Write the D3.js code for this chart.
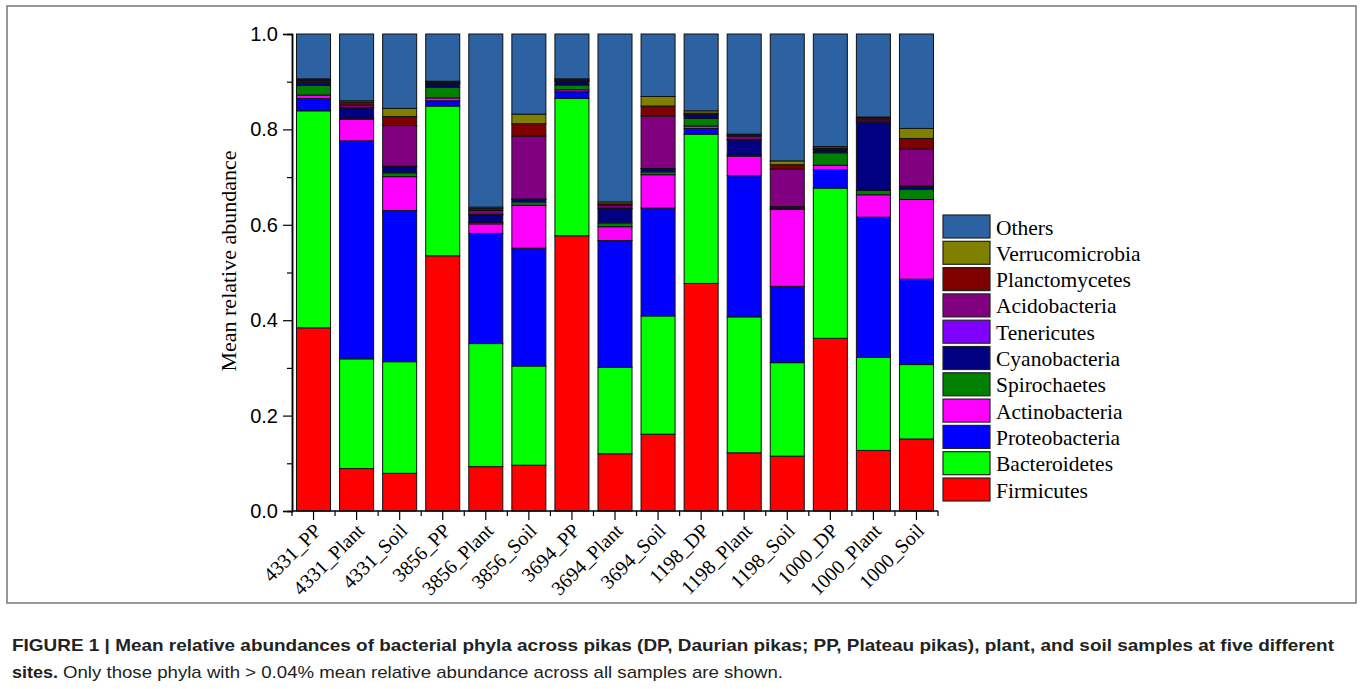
<!DOCTYPE html>
<html>
<head>
<meta charset="utf-8">
<script src="https://cdn.jsdelivr.net/npm/d3@7"></script>
<style>
  html, body { margin: 0; padding: 0; background: #fff; }
  svg { display: block; }
</style>
</head>
<body>
<svg id="fig" width="1360" height="689"></svg>
<script>
// Samples (site_host) along the x axis
const samples = ["4331_PP", "4331_Plant", "4331_Soil", "3856_PP", "3856_Plant", "3856_Soil",
  "3694_PP", "3694_Plant", "3694_Soil", "1198_DP", "1198_Plant", "1198_Soil",
  "1000_DP", "1000_Plant", "1000_Soil"];

// Phyla, stacked from the bottom up
const phyla = ["Firmicutes", "Bacteroidetes", "Proteobacteria", "Actinobacteria", "Spirochaetes",
  "Cyanobacteria", "Tenericutes", "Acidobacteria", "Planctomycetes", "Verrucomicrobia", "Others"];

// Mean relative abundance of each phylum per sample
const firmicutes      = [0.384, 0.089, 0.079, 0.535, 0.093, 0.096, 0.577, 0.120, 0.161, 0.477, 0.122, 0.115, 0.362, 0.127, 0.151];
const bacteroidetes   = [0.455, 0.230, 0.234, 0.314, 0.258, 0.208, 0.288, 0.181, 0.248, 0.313, 0.285, 0.196, 0.315, 0.195, 0.156];
const proteobacteria  = [0.026, 0.457, 0.317, 0.011, 0.231, 0.247, 0.014, 0.266, 0.226, 0.012, 0.296, 0.160, 0.039, 0.294, 0.179];
const actinobacteria  = [0.007, 0.045, 0.071, 0.006, 0.020, 0.090, 0.004, 0.029, 0.070, 0.005, 0.041, 0.161, 0.009, 0.047, 0.167];
const spirochaetes    = [0.020, 0.002, 0.008, 0.022, 0.003, 0.007, 0.010, 0.008, 0.006, 0.016, 0.002, 0.002, 0.026, 0.009, 0.021];
const cyanobacteria   = [0.005, 0.022, 0.013, 0.007, 0.016, 0.005, 0.007, 0.030, 0.006, 0.007, 0.032, 0.003, 0.006, 0.143, 0.006];
const tenericutes     = [0.002, 0.001, 0.001, 0.001, 0.001, 0.001, 0.001, 0.001, 0.001, 0.001, 0.001, 0.001, 0.001, 0.001, 0.001];
const acidobacteria   = [0.003, 0.005, 0.085, 0.002, 0.008, 0.132, 0.002, 0.006, 0.110, 0.001, 0.007, 0.079, 0.001, 0.004, 0.078];
const planctomycetes  = [0.002, 0.006, 0.019, 0.002, 0.004, 0.026, 0.002, 0.003, 0.021, 0.002, 0.002, 0.009, 0.002, 0.004, 0.022];
const verrucomicrobia = [0.002, 0.003, 0.017, 0.001, 0.003, 0.020, 0.001, 0.004, 0.020, 0.005, 0.002, 0.008, 0.003, 0.002, 0.021];
const others          = [0.094, 0.140, 0.156, 0.099, 0.363, 0.168, 0.094, 0.352, 0.131, 0.161, 0.210, 0.266, 0.236, 0.174, 0.198];

const colors = ["#ff0000", "#00ff00", "#0000ff", "#ff00ff", "#008000",
  "#000080", "#8000ff", "#800080", "#800000", "#808000", "#2c62a2"];

// Axis tick values
const majorTicks = [0.0, 0.2, 0.4, 0.6, 0.8, 1.0];
const minorTicks = [0.1, 0.3, 0.5, 0.7, 0.9];

const captionBold = "FIGURE 1 | Mean relative abundances of bacterial phyla across pikas (DP, Daurian pikas; PP, Plateau pikas), plant, and soil samples at five different";
const captionBold2 = "sites.";
const captionRest = "Only those phyla with > 0.04% mean relative abundance across all samples are shown.";

// ---- build table for the stack layout ----
const seriesValues = [firmicutes, bacteroidetes, proteobacteria, actinobacteria, spirochaetes,
  cyanobacteria, tenericutes, acidobacteria, planctomycetes, verrucomicrobia, others];
const table = samples.map((s, i) => {
  const row = { sample: s };
  phyla.forEach((p, k) => { row[p] = seriesValues[k][i]; });
  return row;
});

(function draw() {
  const svg = d3.select("#fig");
  const serif = "'Liberation Serif', 'Times New Roman', serif";
  const sans = "'Liberation Sans', Arial, sans-serif";

  // outer frame
  svg.append("rect")
    .attr("x", 7).attr("y", 6).attr("width", 1349).attr("height", 597)
    .attr("fill", "none").attr("stroke", "#777").attr("stroke-width", 1.5);

  const pLeft = 292, pRight = 938, pTop = 34, pBottom = 511;

  const x = d3.scaleBand().domain(samples).range([pLeft, pRight])
    .paddingInner(0.21).paddingOuter(0.105);
  const y = d3.scaleLinear().domain([0, 1]).range([pBottom, pTop]);

  const stacked = d3.stack().keys(phyla)(table);

  // stacked bars
  svg.append("g").selectAll("g.layer").data(stacked).join("g")
    .attr("class", "layer")
    .attr("fill", (d, i) => colors[i])
    .selectAll("rect").data(d => d).join("rect")
    .attr("x", d => x(d.data.sample))
    .attr("width", x.bandwidth())
    .attr("y", d => y(d[1]))
    .attr("height", d => y(d[0]) - y(d[1]))
    .attr("stroke", "#111")
    .attr("stroke-width", 1);

  // y axis
  const yAxis = svg.append("g").attr("transform", `translate(${pLeft},0)`)
    .call(d3.axisLeft(y).tickValues(majorTicks).tickFormat(d3.format(".1f")).tickSize(9).tickPadding(5));
  svg.append("g").attr("transform", `translate(${pLeft},0)`)
    .call(d3.axisLeft(y).tickValues(minorTicks).tickFormat("").tickSize(5));

  // x axis: major ticks at bar centres, minor ticks at band edges
  const xAxisG = svg.append("g").attr("transform", `translate(0,${pBottom})`);
  xAxisG.append("line").attr("x1", pLeft).attr("x2", pRight).attr("stroke", "#000").attr("stroke-width", 1.5);
  const bandEdges = samples.map(s => x(s) - x.step() * x.paddingInner() / 2).concat([pRight]);
  xAxisG.selectAll("line.minor").data(bandEdges).join("line").attr("class", "minor")
    .attr("x1", d => d).attr("x2", d => d).attr("y1", 0).attr("y2", 5)
    .attr("stroke", "#000").attr("stroke-width", 1.2);
  xAxisG.selectAll("line.major").data(samples).join("line").attr("class", "major")
    .attr("x1", d => x(d) + x.bandwidth() / 2).attr("x2", d => x(d) + x.bandwidth() / 2)
    .attr("y1", 0).attr("y2", 9)
    .attr("stroke", "#000").attr("stroke-width", 1.2);
  xAxisG.selectAll("text").data(samples).join("text")
    .attr("transform", d => `translate(${x(d) + x.bandwidth() / 2 + 4},${16}) rotate(-45)`)
    .attr("text-anchor", "end")
    .attr("dy", "0.35em")
    .attr("font-family", serif).attr("font-size", 20)
    .text(d => d);

  svg.selectAll(".domain").attr("stroke-width", 1.5);
  svg.selectAll(".tick line").attr("stroke-width", 1.2);
  yAxis.selectAll(".tick text").attr("font-family", sans).attr("font-size", 20).attr("fill", "#000");

  // y axis title
  svg.append("text")
    .attr("transform", `translate(236,${261}) rotate(-90)`)
    .attr("text-anchor", "middle")
    .attr("font-family", serif).attr("font-size", 22)
    .text("Mean relative abundance");

  // legend: Others on top, Firmicutes at the bottom
  const legendOrder = phyla.slice().reverse();
  const legend = svg.append("g").attr("transform", "translate(943,215)");
  const lg = legend.selectAll("g").data(legendOrder).join("g")
    .attr("transform", (d, i) => `translate(0,${i * 26.3})`);
  lg.append("rect").attr("width", 47).attr("height", 23)
    .attr("fill", d => colors[phyla.indexOf(d)])
    .attr("stroke", "#222").attr("stroke-width", 1.2);
  lg.append("text").attr("x", 53).attr("y", 12).attr("dy", "0.35em")
    .attr("font-family", serif).attr("font-size", 21.5)
    .text(d => d);

  // caption
  const capFont = "'Liberation Sans Narrow', 'Arial Narrow', 'Liberation Sans', Arial, sans-serif";
  svg.append("text").attr("x", 12).attr("y", 651)
    .attr("font-family", capFont).attr("font-size", 17).attr("font-weight", "bold")
    .attr("fill", "#222")
    .attr("textLength", 1322).attr("lengthAdjust", "spacingAndGlyphs")
    .text(captionBold);
  svg.append("text").attr("x", 12).attr("y", 678)
    .attr("font-family", capFont).attr("font-size", 17).attr("font-weight", "bold")
    .attr("fill", "#222")
    .attr("textLength", 46).attr("lengthAdjust", "spacingAndGlyphs")
    .text(captionBold2);
  svg.append("text").attr("x", 63).attr("y", 678)
    .attr("font-family", capFont).attr("font-size", 17)
    .attr("fill", "#222")
    .attr("textLength", 720).attr("lengthAdjust", "spacingAndGlyphs")
    .text(captionRest);
})();
</script>
</body>
</html>
